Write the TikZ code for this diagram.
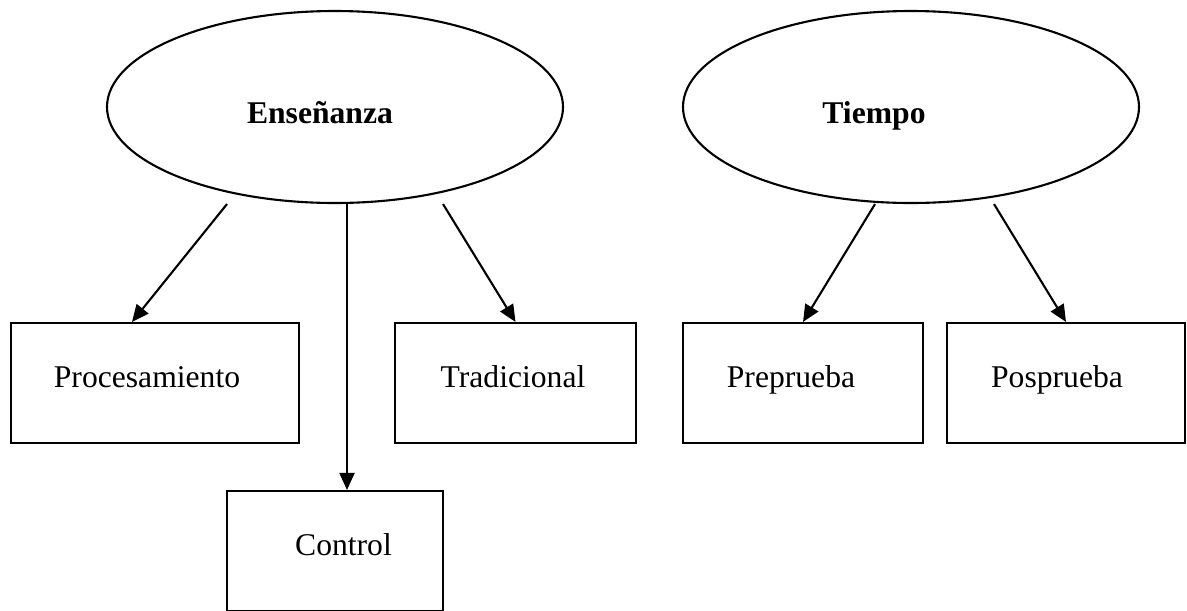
\documentclass[tikz,border=0pt]{standalone}
\usepackage{fontspec}
\setmainfont{Liberation Serif}
\usepackage{tikz}
\usetikzlibrary{shapes}
\usetikzlibrary{arrows.meta}

\tikzset{
    factor/.style={draw, ellipse, line width=0.42mm, inner sep=0pt,
        minimum width=9.12cm, minimum height=3.84cm},
    level/.style={draw, rectangle, line width=0.42mm, inner sep=0pt,
        minimum height=2.40cm},
    arr/.style={line width=0.42mm, -{Triangle[length=0.34cm, width=0.3cm]}},
    every label/.style={text height=0.42cm, text depth=0.12cm}
}

\begin{document}
\begin{tikzpicture}[font=\fontsize{18}{21.6}\selectfont]

        \useasboundingbox (0,0) rectangle (23.74,-12.2);

        % Factors
        \node[factor, label={[xshift=-0.3cm, yshift=-0.18cm]center:\textbf{Enseñanza}}] (ens) at (6.70,-2.14) {};
        \node[factor, label={[xshift=-0.74cm, yshift=-0.18cm]center:\textbf{Tiempo}}] (tie) at (18.22,-2.14) {};

        % Levels of Enseñanza
        \node[level, minimum width=5.76cm, label={[xshift=-0.16cm, yshift=0.06cm]center:Procesamiento}] (proc) at (3.10,-7.66) {};
        \node[level, minimum width=4.82cm, label={[xshift=-0.05cm, yshift=0.06cm]center:Tradicional}] (trad) at (10.31,-7.66) {};
        \node[level, minimum width=4.32cm, label={[xshift=0.17cm, yshift=0.06cm]center:Control}] (ctrl) at (6.70,-11.02) {};

        % Levels of Tiempo
        \node[level, minimum width=4.80cm, label={[xshift=-0.24cm, yshift=0.06cm]center:Preprueba}] (pre) at (16.06,-7.66) {};
        \node[level, minimum width=4.76cm, label={[xshift=-0.18cm, yshift=0.06cm]center:Posprueba}] (pos) at (21.32,-7.66) {};

        % Start points below the ellipses
        \coordinate (s1) at ([xshift=-2.16cm]ens.south);
        \coordinate (s2) at ([xshift=0.24cm]ens.south);
        \coordinate (s3) at ([xshift=2.16cm]ens.south);
        \coordinate (s4) at ([xshift=-0.72cm]tie.south);
        \coordinate (s5) at ([xshift=1.66cm]tie.south);

        % Arrows
        \draw[arr] (s1) -- ([xshift=-0.46cm]proc.north);
        \draw[arr] (s2) -- ([xshift=0.24cm]ctrl.north);
        \draw[arr] (s3) -- (trad.north);
        \draw[arr] (s4) -- (pre.north);
        \draw[arr] (s5) -- (pos.north);

\end{tikzpicture}
\end{document}
